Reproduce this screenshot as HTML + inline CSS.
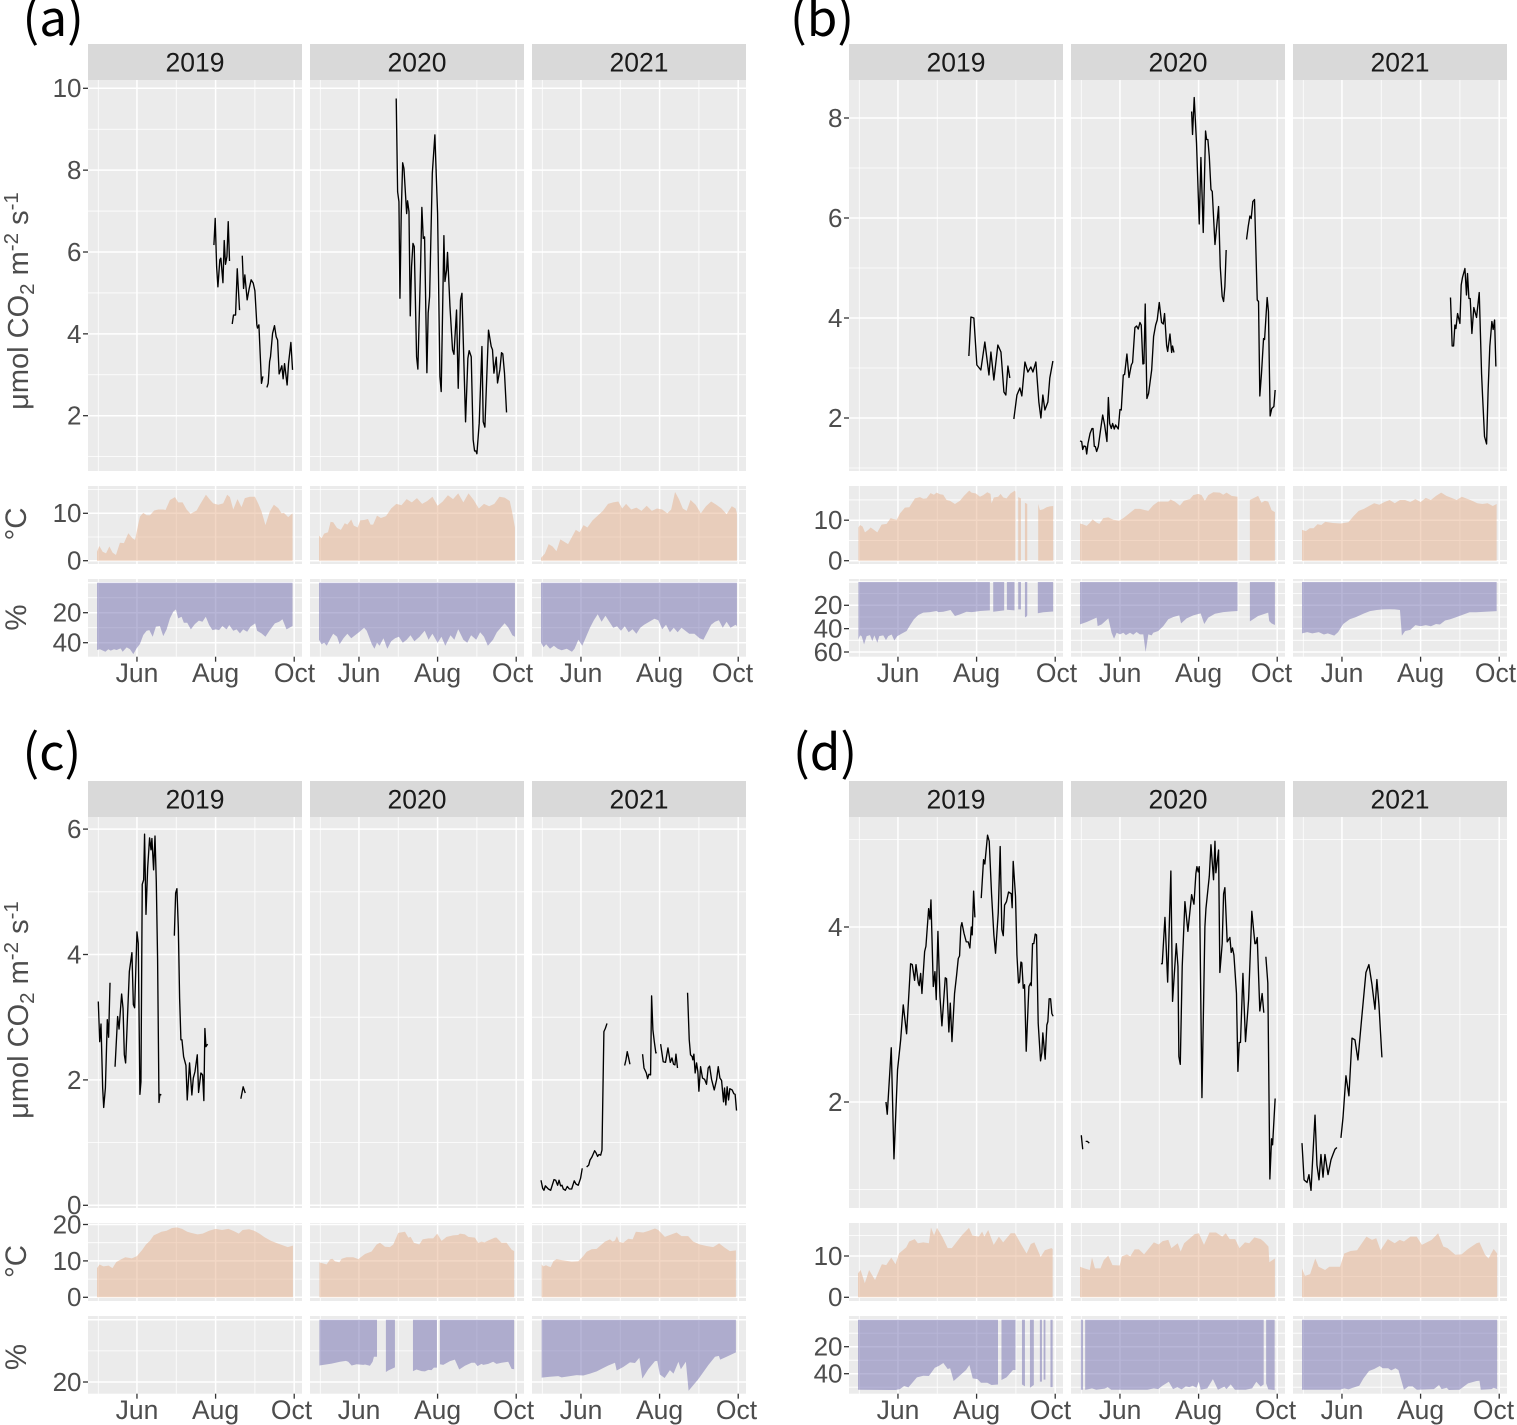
<!DOCTYPE html>
<html lang="en">
<head>
<meta charset="utf-8">
<title>CO2 flux, temperature and moisture panels</title>
<style>
html,body{margin:0;padding:0;background:#fff;}
svg{display:block;font-family:"Liberation Sans",sans-serif;}
</style>
</head>
<body>
<svg id="figure" xmlns="http://www.w3.org/2000/svg" width="1517" height="1425" viewBox="0 0 1517 1425">
  <rect width="1517" height="1425" fill="#ffffff"/>
  <text x="22.5" y="36" font-size="49.5" fill="#000" style="font-family:'Noto Sans CJK JP','Liberation Sans',sans-serif">(a)</text>
  <text x="790" y="36" font-size="49.5" fill="#000" style="font-family:'Noto Sans CJK JP','Liberation Sans',sans-serif">(b)</text>
  <text x="22.5" y="770" font-size="49.5" fill="#000" style="font-family:'Noto Sans CJK JP','Liberation Sans',sans-serif">(c)</text>
  <text x="793" y="770" font-size="49.5" fill="#000" style="font-family:'Noto Sans CJK JP','Liberation Sans',sans-serif">(d)</text>
  <text transform="translate(28,301) rotate(-90)" text-anchor="middle" font-size="29" fill="#4d4d4d">μmol CO<tspan dy="6" font-size="20.5">2</tspan><tspan dy="-6"> m</tspan><tspan dy="-10" font-size="20.5">-2</tspan><tspan dy="10"> s</tspan><tspan dy="-10" font-size="20.5">-1</tspan></text>
  <text transform="translate(28,1010) rotate(-90)" text-anchor="middle" font-size="29" fill="#4d4d4d">μmol CO<tspan dy="6" font-size="20.5">2</tspan><tspan dy="-6"> m</tspan><tspan dy="-10" font-size="20.5">-2</tspan><tspan dy="10"> s</tspan><tspan dy="-10" font-size="20.5">-1</tspan></text>
  <text transform="translate(26,524) rotate(-90)" text-anchor="middle" font-size="29.5" fill="#4d4d4d">°C</text>
  <text transform="translate(26,617.5) rotate(-90)" text-anchor="middle" font-size="29.5" fill="#4d4d4d">%</text>
  <text transform="translate(26,1261.5) rotate(-90)" text-anchor="middle" font-size="29.5" fill="#4d4d4d">°C</text>
  <text transform="translate(26,1357) rotate(-90)" text-anchor="middle" font-size="29.5" fill="#4d4d4d">%</text>
</svg>
<script>
// Every series is a list of [day since 1 May, value] pairs; null marks a gap in the record.
const years = ['2019', '2020', '2021'];
const monthLabels = ['Jun', 'Aug', 'Oct'];
const monthDays = [31, 92, 153];
const minorDays = [1, 61.5, 122.5];

const fluxTicksA = [2, 4, 6, 8, 10];
const fluxTicksB = [2, 4, 6, 8];
const fluxTicksC = [0, 2, 4, 6];
const fluxTicksD = [2, 4];
const tempTicksA = [0, 10];
const tempTicksB = [0, 10];
const tempTicksC = [0, 10, 20];
const tempTicksD = [0, 10];
const wetTicksA = [20, 40];
const wetTicksB = [20, 40, 60];
const wetTicksC = [20];
const wetTicksD = [20, 40];

const fluxA2019 = [[90.7,6.17],[91.7,6.82],[92.8,5.64],[93.8,5.15],[95.3,5.81],[96.1,5.85],[97.7,5.25],[98.7,6.28],[99.7,5.7],[100.8,5.89],[101.8,6.74],[102.8,5.78],null,[104.9,4.24],[105.9,4.46],[107.5,4.46],[108.8,5.59],[110.6,4.58],null,[112.7,5.91],[113.7,5.11],[114.7,5.44],[116.5,4.83],[118.1,5.11],[119.6,5.32],[121.2,5.24],[122.5,5.05],[124,4.22],[124.5,4.14],[125.6,4.22],[127.6,2.79],[128.7,2.96],null,[131.8,2.69],[132.8,2.79],[133.9,3.32],[134.6,3.44],[136.2,4.01],[137.7,4.2],[139,3.93],[140.1,3.85],[141.3,3.02],[143.4,3.22],[144.4,2.9],[145.5,3.27],[147.5,2.75],[148.6,3.28],[150.4,3.79],[151.7,3.12]];
const fluxA2020 = [[59.9,9.75],[61,7.47],[62,7.23],[62.8,4.87],[63.8,6.94],[64.9,8.18],[65.9,8.04],[68,6.94],[68.7,7.25],[69.8,6.99],[70.8,4.44],[71.8,5.64],[72.9,6.21],[73.9,6.13],[75.7,3.44],[76.7,3.14],[78.8,5.64],[79.8,7.09],[80.9,6.33],[81.9,6.37],[83.7,3.05],[84.7,4.51],[85.8,4.91],[87.9,7.92],[89.9,8.86],[92,6.94],[93.8,2.96],[94.8,2.59],[96.9,6.4],[97.7,5.28],[99,5.56],[99.7,5.99],[101.6,4.67],[103.6,3.61],[104.7,3.5],[106.7,4.58],[108,2.67],[109.8,4.83],[110.9,4.99],[113.7,1.85],[115.5,3.4],[116.5,3.59],[118.1,3.44],[119.6,1.41],[120.7,1.14],[121.7,1.14],[122.5,1.07],[124.3,1.82],[126.4,3.69],[127.4,1.85],[128.7,1.72],[131.5,4.09],[133.6,3.69],[134.6,3.61],[135.7,3.04],[137.5,3.43],[138.5,2.8],[140.3,3.12],[141.6,3.54],[142.6,3.51],[143.9,3.04],[145.5,2.08]];
const fluxA2021 = [];
const tempA2019 = [[0,1.9],[1.8,3.1],[4.4,1.9],[7,1.55],[9.6,3],[12.1,1.7],[14.7,1.2],[17.8,3.8],[20.9,3.7],[24.3,5.8],[27.6,4.7],[29.5,4.4],[31.3,6.8],[33.3,9.3],[35.9,10.1],[38.5,9.6],[41.1,9.6],[44.4,10.6],[47.5,10.8],[51.4,10.8],[53.2,10.7],[56.6,12.8],[60.5,13.4],[63,12.3],[66.4,12.3],[69.5,10.8],[72.6,9.9],[77.3,10.6],[79.8,11.8],[84.5,13.9],[88.1,12.7],[90.2,12.1],[94,11.8],[97.9,12.1],[101,13.9],[103.1,13.4],[105.7,10.8],[109,13],[112.1,11.3],[114.7,13.2],[118.6,13.5],[122.5,13.5],[125,12.1],[127.6,10.4],[130.7,7.5],[134.1,10.4],[137.2,11.8],[140.6,11.1],[143.2,10],[145,10.1],[148.3,9.2],[151.7,10]];
const tempA2020 = [[0,5.3],[2,4.7],[4,5.7],[7,6],[9,8.2],[11,8.1],[14,6.9],[17,6.5],[20,7.9],[22,7.6],[25,8.7],[27,7.4],[30,7],[32,8.5],[35,8.6],[38,8.8],[40,7.6],[42,7.6],[45,9.5],[48,9],[52,9.4],[56,11],[60,12],[64,11.7],[68,13],[72,12.3],[76,13.2],[80,12],[84,12.6],[88,13.5],[92,11.6],[96,12.5],[100,13.8],[104,13],[108,14.2],[112,12.3],[116,14.2],[120,12.8],[124,11],[128,12],[132,11.5],[136,12],[140,13.5],[144,13.3],[148,12.6],[150,10],[152,7]];
const tempA2021 = [[0,0.6],[3,1.5],[6,3.5],[9,3],[12,2],[15,4.5],[18,4],[21,3.5],[24,5],[27,6.5],[30,6],[33,7.5],[36,7],[40,8.5],[44,9.5],[48,10.5],[52,12],[56,12.3],[60,12.5],[63,11],[66,12],[70,10.8],[74,11.2],[78,10.5],[82,11.6],[86,10.5],[90,11],[94,10.8],[98,10],[101,10.8],[104,14.5],[107,13],[110,11],[113,10.5],[116,12.8],[120,11.8],[124,10],[128,11.5],[132,12.5],[136,11.8],[140,11],[144,9.8],[148,11.5],[151,11],[152,10]];
const wetA2019 = [[0,44.9],[2.3,44.4],[6.5,46],[8.8,44.4],[10.6,45.3],[13.2,44.4],[15.2,44.9],[18.3,43.8],[19.9,46],[23,43.1],[25.6,44.4],[28.2,47.6],[30.7,43.8],[33.3,40.9],[35.9,34.9],[38.5,32],[40.6,31.6],[43.2,36],[45.7,29.3],[48.8,28.9],[51.4,35.6],[54,31.1],[56.6,23.8],[59.2,19.3],[61.2,17.8],[63,23.8],[65.6,22.7],[67.4,26.7],[70,26.7],[72.8,31.1],[75.9,27.6],[79,25.3],[81.8,26],[84.4,22.7],[87,28.2],[89.6,31.6],[92.2,31.1],[94.7,31.6],[97.3,28.9],[100.5,31.1],[102.6,28.2],[105.7,32],[108.3,31.1],[110.9,33.8],[113.4,31.1],[116.5,32.7],[119.1,29.3],[122.7,27.1],[124.2,32],[127.6,33.8],[130.7,36],[134.1,31.6],[138,27.1],[141.3,26],[143.9,24.4],[147,31.1],[151.7,28.9]];
const wetA2020 = [[0,38],[2,41],[4,40],[6,42],[9,37],[11,34],[14,36],[16,41],[19,37],[22,34],[25,37],[28,35],[31,33],[35,30],[37,32],[41,41],[43,44],[45,40],[47,42],[50,37],[53,44],[56,39],[59,37],[62,36],[65,40],[68,38],[71,35],[74,39],[78,36],[82,32],[85,38],[88,34],[92,40],[95,36],[98,42],[102,35],[105,38],[108,31],[112,38],[115,40],[118,35],[122,38],[125,33],[128,36],[131,42],[135,38],[138,33],[141,30],[144,27],[147,30],[150,35],[152,36]];
const wetA2021 = [[0,40],[2,43],[4,41],[7,44],[10,42],[13,44],[16,45],[20,44],[24,46],[26,44],[29,38],[32,42],[35,36],[38,30],[41,25],[44,21],[47,26],[50,22],[53,26],[56,30],[59,29],[62,32],[65,29],[68,33],[71,31],[74,34],[77,30],[80,28],[84,26],[88,24],[91,25],[94,31],[97,28],[100,33],[103,30],[106,33],[109,30],[112,32],[115,34],[119,34],[123,37],[126,38],[129,33],[132,28],[135,26],[138,25],[141,30],[144,26],[147,30],[151,28],[152,29]];

const fluxB2019 = [[86,3.24],[87.6,4.02],[89.9,4],[92.2,3.06],[95.3,2.96],[98.4,3.52],[101.6,2.86],[103.1,3.32],[105.4,2.76],[108.5,3.46],[110.9,3.32],[113.2,2.52],[114.7,2.46],[116.3,3.04],[117.8,2.8],null,[120.9,1.98],[123.3,2.46],[125.6,2.6],[127.1,2.44],[129.5,3.12],[131.8,2.92],[134.1,3.02],[135.7,2.92],[138,3.12],[140.3,2.32],[141.9,2],[143.4,2.46],[145,2.16],[147.3,2.32],[148.8,2.8],[151.2,3.14]];
const fluxB2020 = [[0,1.54],[1.3,1.53],[2.1,1.37],[3.1,1.44],[4.4,1.43],[5.2,1.28],[6.2,1.49],[7.8,1.69],[9.3,1.79],[10.1,1.79],[11.1,1.43],[11.9,1.43],[12.9,1.33],[14.2,1.43],[16,1.77],[17.6,2.06],[19.1,1.86],[20.9,1.53],[22,2.41],[23,1.89],[24.3,1.79],[25.3,1.89],[26.6,1.78],[27.6,1.86],[29.7,1.78],[31,2.17],[32,2.16],[33.6,2.86],[34.6,2.87],[36.4,3.28],[38,2.81],[39.8,3.06],[40.8,3.11],[42.6,3.81],[43.9,3.84],[45.2,3.78],[46.5,3.91],[47.5,3.86],[48.8,3.08],[49.6,3.09],[50.6,4.28],[51.9,2.39],[53.2,2.49],[55.6,2.96],[57.1,3.63],[58.7,3.86],[59.9,3.96],[61.5,4.31],[63.3,3.91],[64.6,3.88],[65.6,4.09],[67.2,3.45],[68,3.33],[69.8,3.68],[71.1,3.31],[71.8,3.44],[72.9,3.31],null,[86.6,8.13],[87.3,7.67],[88.6,8.41],[90.4,7.49],[92.5,5.88],[93.8,7.21],[95.6,5.71],[97.4,7.74],[98.2,7.57],[99.2,7.57],[100.3,7.23],[101.6,6.57],[102.6,6.53],[104.7,5.47],[107.5,6.23],[108.8,5.03],[110.3,4.43],[111.4,4.33],[112.4,4.63],[113.4,5.36],null,[129.2,5.57],[130.5,5.83],[131.8,6.04],[132.8,5.99],[134.1,6.33],[135.4,6.37],[137.5,4.36],[138.5,4.33],[139.5,2.44],[140.8,2.89],[142.4,3.59],[143.2,3.57],[145.2,4.41],[146.2,4.13],[147.5,2.04],[148.8,2.19],[150.4,2.23],[151.4,2.56]];
const fluxB2021 = [[115.2,4.41],[116.5,3.44],[117.6,3.44],[118.6,3.86],[119.4,3.79],[120.7,4.09],[122.5,3.89],[123.5,4.66],[124.5,4.81],[126.4,4.99],[127.6,4.46],[128.4,4.89],[129.5,4.39],[130.5,4.39],[131.8,3.69],[133.3,4.21],[135.4,4.01],[137.5,4.51],[139.3,2.89],[140.1,2.43],[141.6,1.63],[143.2,1.48],[144.4,2.56],[145.7,3.43],[147.3,3.93],[148.3,3.77],[149.4,3.96],[150.4,3.03]];
const tempB2019 = [[0.3,8.2],[1.6,8.8],[3.6,8.4],[5.4,7],[8,7.6],[9.8,8.2],[12.4,7.6],[15,7],[18.3,8.9],[22.2,9.1],[25.3,10.5],[27.4,10.3],[30,10.1],[32.6,11.7],[36.4,13.1],[39.8,13.2],[44.2,15.4],[48.1,15.7],[50.6,15.3],[53.2,15.4],[56.3,16.7],[58.9,16.3],[61,16.8],[63.6,16.4],[66.1,16.3],[68.7,15],[71.3,14.8],[75.2,14],[79.1,14.8],[82.2,16],[86.3,17.3],[88.1,16.8],[91.5,16.6],[94.6,15.8],[97.2,16.2],[100.3,16.9],[102.8,16.5],[103.6,14.2],[105.4,15.6],[108.8,15.8],[110.6,16.5],[112.7,15.6],[115.2,15.4],[118.3,16.6],[121.7,17.3],[122.2,17],null,[124.3,15.7],[126.4,15.4],null,[129.5,14.3],[131.3,14],null,[139.8,14],[141.1,12.5],[143.7,12.7],[146.3,13.2],[148.8,13.4],[151.4,13.5]];
const tempB2020 = [[0,9.2],[2.1,9],[5.2,8.6],[7.8,9.4],[9.8,10.2],[12.9,9.4],[15,9.1],[18.1,10.5],[22,10.7],[25.8,10.1],[30.5,9.9],[33.6,10.5],[36.7,11.3],[42.6,12.8],[46.5,12.8],[50.4,12.5],[53,12.3],[56.8,13.7],[60.7,14.6],[65.9,14.6],[68.5,14.6],[70.3,15.1],[73.6,14.6],[77.5,13.6],[80.6,14.8],[85.3,15.2],[87.9,16.2],[91.7,16.5],[94.3,16.2],[96.9,14.8],[99.5,16.2],[103.4,16.9],[108.5,16.8],[111.1,16.3],[113.7,16.8],[117.6,16],[122.2,15.8],null,[131.8,15],[138.2,16],[140.8,14.3],[143.4,14.8],[146,14.6],[148.6,12.5],[151.2,12]];
const tempB2021 = [[0,7.6],[3,7.3],[6,8],[9,8],[12,9],[15,8.8],[18,9.6],[24,9.3],[30,9.2],[36,9.5],[40,11],[44,12.3],[48,12.8],[52,13.5],[56,14.2],[60,13.8],[64,14.5],[68,15],[72,14.2],[76,15],[80,15],[84,14.5],[88,15.2],[92,14.5],[96,15.5],[100,15],[104,16],[108,16.8],[112,16],[116,15.5],[120,15],[124,15.8],[128,15.3],[132,14.8],[136,14.2],[140,14],[144,14.2],[148,13.5],[151,14]];
const wetB2019 = [[0.3,49.2],[1.6,45.8],[2.8,46.4],[4.7,53.5],[6.7,46.4],[9.3,45.5],[11.1,50.6],[12.7,45.8],[15,52.1],[16.5,46.4],[19.6,45.8],[21.7,49.8],[23.5,46.4],[26.1,45],[28.2,50.1],[30.5,46.4],[33.9,44.3],[37.7,42],[40.3,37.2],[43.4,32],[46.8,28.3],[50.6,26.3],[55.8,25.8],[61,24.9],[62.3,25.8],[66.1,25.5],[71.8,24],[75.2,29.2],[79.1,27.8],[84.2,25.5],[88.1,25.8],[90.7,25.5],[94.6,24.9],[102.3,24.3],null,[104.9,25.5],[113.4,24.3],null,[115.5,23.8],[121.4,24.3],null,[124.3,23.5],[126.4,23.5],null,[129.5,29.8],[130.2,30.3],[131.3,28.6],null,[139.5,26.8],[143.7,25.9],[151.4,25.3]];
const wetB2020 = [[0,36.3],[5.2,34.3],[12.9,30.6],[13.7,37.8],[16.8,36.3],[22,31.2],[24.5,43.5],[26.4,48.6],[28.4,43.5],[31,44.9],[33.6,43.5],[35.6,45.5],[38.8,43.5],[41.3,45.2],[43.9,42.9],[46.5,44.9],[49.1,44.9],[50.9,60],[53,44.9],[55.6,45.8],[56.8,43.5],[60.7,42],[64.6,37.8],[68.5,32],[72.4,30],[77,28.6],[78.4,35.5],[82.7,31.2],[87.9,28.6],[93.6,26.9],[96.4,36],[99.5,30.6],[104.7,27.2],[111.1,25.8],[117.6,25.2],[122.2,24.9],null,[131.8,33.8],[138.2,29.2],[146,26.3],[146.8,33.5],[148.6,35.5],[151.2,36.9]];
const wetB2021 = [[0,44],[4,43],[8,44],[13,43],[17,45],[20,44],[25,46],[28,43],[32,36],[37,32],[42,30],[48,27],[52.7,25],[58,24],[63,23.5],[68,23.4],[72,23.5],[76,24],[77.5,46],[80,42],[84,41],[88,37],[92,38],[96,37],[100,38],[104,36],[107,36.5],[111,33],[115,32],[120,30],[125,28],[130,26],[135,26],[151,25]];

const fluxC2019 = [[1,3.25],[2.1,2.61],[3.1,2.89],[4.4,1.87],[5.2,1.56],[6.5,1.87],[8,2.96],[9,2.68],[10.1,3.55],null,[14,2.21],[16,3.01],[17.1,2.81],[19.1,3.37],[20.2,3.14],[21.2,2.4],[22.2,2.27],[25.1,3.73],[27.1,4.03],[28.2,3.2],[29.2,3.15],[31,4.36],[32,4.18],[33.3,1.77],[34.1,1.97],[35.1,5.12],[36.2,5.19],[36.9,5.92],[38,4.64],[39.3,5.38],[40.8,5.86],[41.9,5.67],[42.6,5.85],[43.9,5.35],[45,5.89],[46,5.16],[47,3.94],[48.1,1.64],[48.8,1.77],[49.9,1.76],null,[60,4.3],[61,4.98],[62,5.05],[63.1,4.42],[64.1,3.3],[65.1,2.64],[65.9,2.64],[67.2,2.37],[69,2.23],[70,1.68],[71.8,2.27],[73.6,1.76],[74.7,2.03],[76,2.13],[77.8,2.4],[78.8,1.8],[80.6,2.11],[81.9,2.08],[82.9,1.67],[83.7,2.82],[84.5,2.53],[85.8,2.57],null,[111.6,1.7],[113.4,1.89],[115,1.79]];
const fluxC2020 = [];
const fluxC2021 = [[0,0.4],[1.3,0.27],[2.3,0.24],[3.4,0.31],[5.7,0.26],[7.5,0.24],[10.1,0.41],[11.4,0.4],[12.9,0.32],[14,0.4],[15.2,0.31],[16.3,0.32],[17.3,0.26],[18.9,0.24],[20.4,0.3],[22,0.26],[23.8,0.26],[25.8,0.39],[27.1,0.34],[28.9,0.32],[30.7,0.43],[32,0.59],null,[35.4,0.61],[37,0.64],[38,0.72],[39.5,0.77],[41.6,0.87],[42.6,0.84],[43.9,0.78],[45,0.81],[46.3,0.8],[47.3,0.88],[48.8,2.77],[49.9,2.82],[51.2,2.9],null,[64.9,2.23],[65.9,2.32],[66.9,2.45],[68,2.35],[69,2.25],null,[78.8,2.41],[79.9,2.19],[81.7,2.11],[82.7,2.02],[83.7,2.09],[85,2.08],[85.8,3.34],[86.8,2.8],[87.9,2.61],[89.1,2.43],[89.7,2.44],null,[92.8,2.57],[94.8,2.29],[96.6,2.28],[98.5,2.51],[100.3,2.28],[101.6,2.35],[102.8,2.25],[103.9,2.24],[104.7,2.41],[105.9,2.19],null,[113.7,3.39],[115,2.64],[116,2.4],[117.3,2.37],[117.8,2.32],[118.6,2.41],[119.6,2.11],[120.7,2.27],[121.7,2.13],[122.5,1.82],[123.8,2.21],[125.3,2.03],[126.9,2.01],[128.4,1.93],[129.7,2.19],[130.8,2.22],[132.3,2.01],[134.4,1.84],[136.2,2],[137.5,2.21],[138.8,2.03],[140.1,1.99],[141.6,1.65],[142.4,1.87],[143.4,1.6],[144.4,1.89],[145.5,1.68],[146.5,1.86],[148.3,1.84],[149.6,1.78],[150.6,1.77],[151.7,1.51]];
const tempC2019 = [[0,8],[2,9],[5,8.5],[9,8.7],[12,8],[15,9.7],[19,10.5],[22,11],[27,10.7],[31,11.3],[35,13],[38,14.5],[41,15.5],[44,17],[47,17.5],[50,18],[54,18.3],[58,19],[62,19.2],[66,18.8],[70,18],[73,17.7],[78,17.3],[82,17.5],[87,18.3],[92,18.8],[97,18.5],[102,18.8],[106,18.2],[110,17.5],[113,18.5],[118,18.7],[122,18.3],[126,17.5],[130,16.5],[135,15.5],[140,14.8],[144,14.3],[148,13.8],[152,14.2]];
const tempC2020 = [[0.3,9.6],[3.4,9.3],[5.9,9],[8.5,10.4],[10.3,10.6],[12.4,9.9],[15.8,9.6],[17.6,10.6],[21.4,11],[26.6,11],[30.5,10.5],[35.7,11.9],[40.8,12.6],[44.7,14.5],[47.3,15],[51.2,13.9],[55,13.8],[57.6,14.5],[61.5,17.7],[66.7,18],[69.3,16.4],[71.1,16.6],[73.6,15],[77.8,14.5],[80.4,15.9],[84.8,16.2],[88.6,16.2],[91.7,17.5],[95.1,15.5],[99,16.6],[104.1,17],[108,17.1],[109.3,17.5],[113.2,17.3],[115.8,16.6],[120.9,16.4],[123.5,15],[126.1,15.3],[128.4,15.1],[131.3,15.6],[136.4,16.4],[137.7,16.4],[141.6,15],[145.5,15],[149.4,13.1],[151.4,12.7]];
const tempC2021 = [[0.5,9],[1.8,8.5],[3.9,8.8],[5.7,8.5],[7.5,8.3],[9.6,9.9],[12.1,10.5],[16,10.2],[19.9,10],[23.8,9.8],[28.9,9.9],[32.8,11.3],[35.4,12.5],[39.3,13.2],[43.2,13.3],[45.7,14.1],[49.6,15.3],[53.5,15.9],[55.6,15.3],[57.4,15.6],[58.9,16.8],[60.7,15.2],[63.8,15],[67.7,16.1],[71.1,15.9],[73.6,18],[79.3,17.8],[83.2,18.2],[88.4,18.9],[91,18.5],[96.1,16.6],[100,17.1],[105.2,17.8],[109,16.8],[114.2,16.8],[118.1,15.3],[123.3,14.5],[128.4,14.1],[133.6,13.8],[138.2,14.8],[142.6,13.6],[146.5,12.7],[151.2,12.9]];
const wetC2019 = [];
const wetC2020 = [[0.3,14.7],[9.8,14.1],[16.3,13.5],[20.9,13.2],[22.7,13.5],[25.3,14.7],[29.2,14.3],[34.4,14.5],[35.7,14.4],[39.5,14.8],[41.6,13.5],[42.6,11.9],[45,11.9],null,[51.9,16.8],[53.7,16.3],[58.9,15.3],null,[72.9,16.5],[75.7,16],[79.6,16.5],[82.2,16.6],[84.8,16.1],[87.3,16.2],[89.1,15.4],[91.5,15.4],null,[93.8,14.3],[96.4,14.5],[101.6,13.3],[105.4,12.8],[108.8,16],[113.2,14.8],[118.3,13.8],[120.9,13.8],[123,14.9],[126.1,14.2],[127.4,14.5],[131.3,14.2],[135.1,13.5],[137.7,14.2],[141.6,13.8],[146.8,13.5],[149.4,15.8],[151.4,15.9]];
const wetC2021 = [[0.5,18.6],[6.9,18.3],[13.4,18.1],[16,18.5],[22.5,18.1],[27.6,17.8],[32.8,17.9],[38,17.3],[43.2,16.6],[48.3,15.5],[52.2,14.7],[57.4,13.8],[58.7,16.3],[63.8,15.2],[69,13.7],[72.9,13.9],[76.3,12.2],[78.6,18.9],[83.2,15.9],[88.4,13.3],[90.2,13.2],[92.2,17.6],[95.9,18.7],[100,16.2],[102.8,17.3],[106.6,13.5],[108.5,15.9],[112.4,13.5],[114.5,22.8],[122,19.1],[129.8,14.6],[135,11.9],[138,11.6],[139,12.8],[144,11.9],[151.2,10.5]];

const fluxD2019 = [[21.7,2],[22.7,1.86],[25.8,2.62],[27.9,1.35],[30.7,2.37],[33.1,2.71],[35.1,3.11],[37.7,2.78],[40.8,3.58],[42.1,3.57],[43.9,3.39],[45,3.57],[46.8,3.36],[47.5,3.33],[48.6,3.47],[49.6,3.24],[51.7,3.72],[52.7,3.78],[54.8,4.21],[55.8,4.09],[56.6,4.31],[58.4,3.32],[59.7,3.49],[60.7,3.17],[62,3.95],[63.6,3.2],[65.1,2.87],[67.7,3.42],[68.7,3.41],[70.5,2.8],[71.6,3.13],[72.9,2.69],[74.9,3.24],[76.5,3.45],[77.8,3.64],[78.8,3.67],[79.8,4],[80.6,4.05],[82.2,3.93],[84,3.83],[85.5,3.83],[86.8,3.76],[87.9,4],[88.6,3.91],[89.7,4.41],[90.7,4.11],null,[95.6,4.33],[97.4,4.77],[98.4,4.72],[100.5,5.05],[101.8,4.98],[103.6,4.38],[105.4,3.91],[106.7,3.7],[108.8,4.16],[110.3,4.92],[111.6,3.97],[112.7,3.9],[113.7,4.25],[115.2,4.29],[116.8,4.4],[118.9,4.38],[119.6,4.22],[120.4,4.75],[122.2,4.35],[123.3,3.68],[124.5,3.36],[125.3,3.37],[126.4,3.6],[127.1,3.59],[128.2,3.3],[129.2,3.34],[130.5,2.58],[132.6,3.32],[133.9,3.36],[134.4,3.33],[135.4,3.81],[136.4,3.81],[137.5,3.92],[138.5,3.91],[139.8,2.9],[141.6,2.47],[142.6,2.56],[143.4,2.79],[145.2,2.49],[146.5,2.88],[147.3,2.92],[148.3,3.18],[149.4,3.18],[150.4,3.01],[151.4,2.98]];
const fluxD2020 = [[1,1.62],[2.1,1.46],null,[4.4,1.55],[5.7,1.55],[7.2,1.53],null,[62.8,3.58],[63.8,3.58],[65.9,4.11],[68,3.37],[70.5,4.64],[71.8,3.15],[74.7,3.81],[76,3.55],[76.7,2.52],[77.8,2.43],[79.3,3.55],[81.4,4.29],[83.7,3.95],[86.6,4.37],[88.4,4.26],[89.9,4.61],[90.7,4.69],[91.7,4.63],[92.5,4.69],[94.6,2.05],[96.9,4],[97.7,4.21],[100.3,4.58],[101.6,4.94],[103.6,4.54],[104.7,4.98],[105.4,4.62],[107.5,4.88],[108.5,3.48],[110.3,3.81],[111.4,4.38],[112.4,4.45],[114.2,3.83],[116.3,3.88],[117.3,3.71],[118.3,3.76],[119.4,3.68],[121.4,3.24],[122.5,2.35],[123.5,2.68],[124.5,2.68],[126.4,3.47],[128.4,2.69],[130.8,3.17],[133.3,4.18],[135.7,3.81],[136.4,3.81],[137.5,3.88],[139.5,3.04],[141.3,3.24],[142.6,3.02],null,[144.2,3.66],[145.7,3.36],[147.3,1.12],[148.6,1.58],[149.4,1.51],[151.4,2.04]];
const fluxD2021 = [[0,1.53],[1.6,1.11],[3.9,1.08],[5.4,1.17],[7,0.99],[10.1,1.85],[11.6,1.28],[13.2,1.11],[14.7,1.4],[16.3,1.14],[17.8,1.4],[20.2,1.17],[22.5,1.34],[24,1.4],[25.6,1.46],[27.1,1.48],null,[30.2,1.59],[31.8,1.82],[34.1,2.3],[36.4,2.07],[38.8,2.73],[41.1,2.71],[43.4,2.48],[46.5,2.99],[49.6,3.48],[51.9,3.57],[54.3,3.34],[56.6,3.06],[58.1,3.4],[59.7,3.11],[62,2.51]];
const tempD2019 = [[0,5.8],[2,6.6],[5.3,3.4],[8.6,6.6],[13.2,4.2],[18.5,8],[21.9,7.8],[25.8,9.6],[29.1,8],[31.8,10.6],[37.4,12.1],[39.7,13.5],[44,14.1],[46.4,13.1],[50.7,13.3],[55,13.1],[56.6,16.9],[59,15],[61.3,16.8],[65.6,14.5],[69.6,11.9],[72.8,11.9],[80.5,15],[86.1,16.8],[88.7,15],[93.7,14.7],[96.3,15.9],[98,14.7],[101,16.3],[105.3,12.7],[109.3,14.7],[112.6,13.3],[118.5,15.5],[121.8,15.5],[126.8,12.7],[130.8,10.6],[134.1,12.9],[136.8,13.3],[141.7,9.8],[145,11.4],[150,11.9],[151,11.7]];
const tempD2020 = [[0,7.4],[3.3,7],[7.6,6.6],[9.3,9.6],[11.6,7],[15.9,7],[18.5,9],[21.9,10.1],[25.2,7.8],[30.8,7.7],[32.5,9.9],[36.4,10.4],[39,9.9],[42.4,11.6],[45.7,11.6],[49.7,10.4],[57.3,13.3],[60.9,12.8],[64.2,13.6],[68.5,13.9],[70.9,11.9],[75.8,13.1],[78.1,11.1],[80.8,13.1],[89,15.3],[92.2,15.5],[96.2,12.7],[100.5,15.7],[105.5,15.7],[110.4,14.7],[113.1,15.5],[116.1,14.1],[120.4,14.1],[123.7,11.9],[128,13.3],[131.3,13.1],[135.3,14.5],[140.2,14.1],[142.5,13.5],[146.2,12.3],[146.9,8.5],[151.2,9.4]];
const tempD2021 = [[0,7],[2.3,5.2],[6.3,5.6],[10.3,9.4],[12.9,7.4],[17.9,6.6],[21.2,7.4],[29.5,7.4],[32.8,10.6],[37.7,11.2],[42.7,11.4],[50,14.7],[54.3,13.9],[57.6,14.3],[60.9,11.4],[66.6,14.1],[71.9,13.1],[75.8,13.9],[79.1,13.5],[84.1,14.7],[89,14.7],[93,12.7],[100.6,13.9],[105.6,15.5],[109.6,12.3],[112.9,11.9],[118.9,10.3],[123.8,10.4],[128.8,11.7],[135.4,13.1],[137.7,13.3],[142,10.3],[144.7,9.4],[148.7,11.7],[151.4,10.6]];
const wetD2019 = [[0,51.9],[29.1,52.1],[32.5,51.4],[35.8,49.1],[39.1,50.1],[45.7,42.7],[50.7,41.5],[55,41.7],[59.6,35.6],[62.9,34.1],[66.2,32.1],[69.6,36.5],[71.5,36],[74.2,45.4],[78.8,41.5],[83.8,37.3],[86.4,33.6],[89,43.5],[92.7,44],[95.4,46.7],[100.3,46.7],[103.6,48.4],[108.6,48],null,[111.3,44.7],[115.2,42.7],[120.2,37.3],[122.2,37.3],null,[127.2,47.9],[129.5,49.4],null,[133.4,50.4],[136.4,48.4],null,[141.1,45.9],[142.7,45.9],null,[144,44.4],[145.4,44.4],null,[149.3,49.9],[151,49.9]];
const wetD2020 = [[0.7,51.9],[2.3,51.9],null,[4,51.9],[5.9,51.6],[9.3,50.9],[12.6,51.9],[19.2,51.1],[21.5,49.9],[24.2,51.9],[35.8,51.9],[42.4,51.9],[52.3,51.9],[57.3,50.9],[60.6,51.4],[63.9,48.9],[68.9,46],[72.2,51.4],[75.5,49.9],[78.8,51.6],[82.1,49.4],[84.8,49.9],[87.4,48.9],[90.4,50.4],[92.1,46],[93.7,51.9],[98.7,50.9],[103.1,44],[107,51.9],[112,49.6],[113.6,51.4],[116.9,47.9],[120.2,51.9],[128.5,51.9],[133.5,50.9],[136.8,46],[140.2,49.6],[142.5,47.9],null,[144.4,47.2],[146.1,51.6],[151,52.1]];
const wetD2021 = [[0,51.9],[29.5,51.9],[32.8,50.9],[36.1,51.6],[39.4,50.4],[44.4,48.9],[47.7,43.5],[52,38],[56,36.5],[60.3,34.3],[62.6,36],[66.9,36],[69.2,37.5],[72.5,36],[74.8,37.3],[79.1,51.9],[82.5,49.4],[85.8,49.4],[89.1,51.9],[102.3,51.4],[106.3,48.4],[108.3,51.4],[112.3,50.4],[113.9,52.1],[122.2,51.9],[128.8,47.2],[135.4,45.4],[137.7,45.2],[138.7,51.9],[147,51.4],[148.7,50.4],[151.4,51.4]];

// Layout only: scale anchors, panel frames and label nudges.
const charts = [
  {id:'a', left:88, shiftY:0, oct:[294.5,512.5,732.5],
   flux:{sets:[fluxA2019,fluxA2020,fluxA2021], dom:[2,10], px:[415.7,88.3], ticks:fluxTicksA, minor:[1,3,5,7,9]},
   temp:{sets:[tempA2019,tempA2020,tempA2021], dom:[0,10], px:[560.7,513.3], ticks:tempTicksA, minor:[5,15]},
   wet:{sets:[wetA2019,wetA2020,wetA2021], dom:[20,40], px:[612.7,642.7], ticks:wetTicksA, minor:[10,30,50]}},
  {id:'b', left:849, shiftY:0, oct:[1056.5,1271.5,1495.5],
   flux:{sets:[fluxB2019,fluxB2020,fluxB2021], dom:[2,8], px:[418,118], ticks:fluxTicksB, minor:[1,3,5,7]},
   temp:{sets:[tempB2019,tempB2020,tempB2021], dom:[0,10], px:[560.7,520.2], ticks:tempTicksB, minor:[5,15]},
   wet:{sets:[wetB2019,wetB2020,wetB2021], dom:[20,60], px:[605.3,652], ticks:wetTicksB, minor:[10,30,50]}},
  {id:'c', left:88, shiftY:737, oct:[291.5,513.5,736.5],
   flux:{sets:[fluxC2019,fluxC2020,fluxC2021], dom:[0,6], px:[1205.3,829.1], ticks:fluxTicksC, minor:[1,3,5]},
   temp:{sets:[tempC2019,tempC2020,tempC2021], dom:[0,20], px:[1297.3,1224.5], ticks:tempTicksC, minor:[5,15]},
   wet:{sets:[wetC2019,wetC2020,wetC2021], dom:[0,20], px:[1319.7,1382], ticks:wetTicksC, minor:[10]}},
  {id:'d', left:849, shiftY:737, oct:[1050.5,1275.5,1493.5],
   flux:{sets:[fluxD2019,fluxD2020,fluxD2021], dom:[2,4], px:[1102,927], ticks:fluxTicksD, minor:[1,3,5]},
   temp:{sets:[tempD2019,tempD2020,tempD2021], dom:[0,10], px:[1297.3,1256], ticks:tempTicksD, minor:[5,15]},
   wet:{sets:[wetD2019,wetD2020,wetD2021], dom:[20,40], px:[1346.7,1373.7], ticks:wetTicksD, minor:[10,30,50]}}
];

const svg = document.getElementById('figure');
const NS = 'http://www.w3.org/2000/svg';
const PANEL_W = 214;
const COL_STEP = 222;
const FRAME = {strip:[44,80], flux:[80,471], temp:[486,564], wet:[579,656.7]};

function make(tag, parent, attrs, text) {
  const node = document.createElementNS(NS, tag);
  for (const k in attrs) node.setAttribute(k, attrs[k]);
  if (text !== undefined) node.textContent = text;
  parent.appendChild(node);
  return node;
}
function xScale(day, left) {
  return left + 9 + day * 1.289;
}
function yScale(value, axis) {
  const t = (value - axis.dom[0]) / (axis.dom[1] - axis.dom[0]);
  return axis.px[0] + t * (axis.px[1] - axis.px[0]);
}
function segments(series) {
  const out = [[]];
  series.forEach(function (p) {
    if (p === null) out.push([]);
    else out[out.length - 1].push(p);
  });
  return out.filter(function (s) { return s.length > 0; });
}
function linePath(series, left, axis) {
  return segments(series).map(function (seg) {
    return 'M' + seg.map(function (p) {
      return xScale(p[0], left).toFixed(2) + ',' + yScale(p[1], axis).toFixed(2);
    }).join('L');
  }).join('');
}
function areaPath(series, left, axis, base) {
  const y0 = yScale(base, axis).toFixed(2);
  return segments(series).map(function (seg) {
    const first = xScale(seg[0][0], left).toFixed(2);
    const last = xScale(seg[seg.length - 1][0], left).toFixed(2);
    return 'M' + first + ',' + y0 + 'L' + seg.map(function (p) {
      return xScale(p[0], left).toFixed(2) + ',' + yScale(p[1], axis).toFixed(2);
    }).join('L') + 'L' + last + ',' + y0 + 'Z';
  }).join('');
}
function drawGrid(g, left, top, bottom, axis, extraMajor) {
  axis.minor.forEach(function (v) {
    const y = yScale(v, axis);
    if (y < top || y > bottom) return;
    const line = make('line', g, {x1:left, x2:left + PANEL_W, y1:y, y2:y, stroke:'#fff', 'stroke-width':0.8});
    
    
  });
  minorDays.forEach(function (d) {
    const x = xScale(d, left);
    const line = make('line', g, {x1:x, x2:x, y1:top, y2:bottom, stroke:'#fff', 'stroke-width':0.8});
    
    
  });
  axis.ticks.concat(extraMajor).forEach(function (v) {
    const y = yScale(v, axis);
    const line = make('line', g, {x1:left, x2:left + PANEL_W, y1:y, y2:y, stroke:'#fff', 'stroke-width':1.5});
    
    
  });
  monthDays.forEach(function (d) {
    const x = xScale(d, left);
    const line = make('line', g, {x1:x, x2:x, y1:top, y2:bottom, stroke:'#fff', 'stroke-width':1.5});
    
    
  });
}
function drawYAxis(g, left, axis, kind, chartId) {
  axis.ticks.forEach(function (v) {
    const y = yScale(v, axis);
    const tick = make('line', g, {x1:left - 5, x2:left, y1:y, y2:y, stroke:'#333', 'stroke-width':1.3});
    
    
    const label = make('text', g, {x:left - 6.5, y:y + 8.9, 'text-anchor':'end', 'font-size':26, fill:'#4d4d4d'}, String(v));
    
    
  });
}

charts.forEach(function (chart) {
  const group = make('g', svg, {});
  
  

  years.forEach(function (year, col) {
    const left = chart.left + col * COL_STEP;
    const s = chart.shiftY;

    const strip = make('rect', group, {x:left, y:FRAME.strip[0] + s, width:PANEL_W, height:36, fill:'#d9d9d9'});
    
    
    const stripText = make('text', group, {x:left + PANEL_W / 2, y:71.4 + s, 'text-anchor':'middle', 'font-size':26.5, fill:'#1a1a1a'}, year);
    
    

    [['flux', FRAME.flux], ['temp', FRAME.temp], ['wet', FRAME.wet]].forEach(function (row) {
      const kind = row[0];
      const top = row[1][0] + s;
      const bottom = row[1][1] + s;
      const axis = chart[kind];
      const panel = make('g', group, {});
      
      
      const bg = make('rect', panel, {x:left, y:top, width:PANEL_W, height:bottom - top, fill:'#ebebeb'});
      
      
      drawGrid(panel, left, top, bottom, axis, kind === 'wet' ? [0] : []);

      const series = axis.sets[col];
      if (series.length) {
        if (kind === 'flux') {
          const line = make('path', panel, {d:linePath(series, left, axis), fill:'none', stroke:'#000', 'stroke-width':1.35, 'stroke-linejoin':'round'});
          
          
        } else if (kind === 'temp') {
          const area = make('path', panel, {d:areaPath(series, left, axis, 0), fill:'#e5af8b', 'fill-opacity':0.5});
          
          
        } else {
          const area = make('path', panel, {d:areaPath(series, left, axis, 0), fill:'#716daf', 'fill-opacity':0.5});
          
          
        }
      }
      if (col === 0) drawYAxis(group, left, axis, kind, chart.id);
    });

    monthDays.forEach(function (d, i) {
      const x = xScale(d, left);
      const tick = make('line', group, {x1:x, x2:x, y1:FRAME.wet[1] + s, y2:FRAME.wet[1] + s + 5, stroke:'#333', 'stroke-width':1.3});
      
      
      const lx = i === 2 ? chart.oct[col] : x;
      const label = make('text', group, {x:lx, y:682 + s, 'text-anchor':'middle', 'font-size':26.5, fill:'#4d4d4d'}, monthLabels[i]);
      
      
    });
  });
});
</script>
</body>
</html>
